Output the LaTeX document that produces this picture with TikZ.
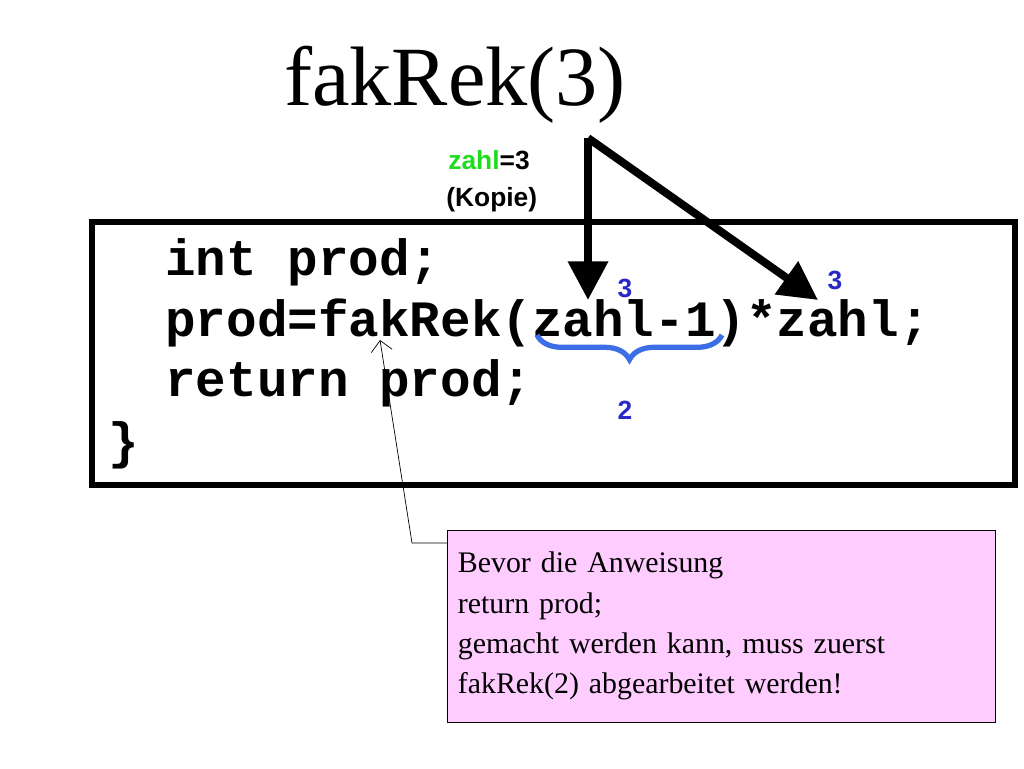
\documentclass[tikz,border=0pt]{standalone}
\usepackage{fontspec}
\setmainfont{Liberation Serif}
\setsansfont{Liberation Sans}
\setmonofont{Liberation Mono}
\usetikzlibrary{decorations.pathreplacing,arrows.meta}
\definecolor{braceblue}{RGB}{60,110,230}
\definecolor{numblue}{RGB}{40,40,200}
\definecolor{notepink}{RGB}{255,204,255}
\definecolor{zahlgreen}{RGB}{30,220,30}
\tikzset{
  code/.style={anchor=west, inner sep=0pt, font=\ttfamily\bfseries\fontsize{29}{30}\selectfont},
  num/.style={text=numblue, font=\sffamily\bfseries\fontsize{15}{16}\selectfont},
  small/.style={anchor=west, inner sep=0pt, font=\sffamily\bfseries\fontsize{15}{16}\selectfont},
  bigarrow/.style={line width=4.5pt, -{Triangle[length=22pt,width=22pt]}}
}
\begin{document}
\begin{tikzpicture}[x=0.02cm,y=-0.02cm]
  \useasboundingbox (0,0) rectangle (1024,768);
  \node (title) at (455,85) {\fontsize{48}{50}\selectfont fakRek(3)};
  \node[small] (param) at (448,160) {\textcolor{zahlgreen}{zahl}=3};
  \node[small] (kopie) at (446,200) {(Kopie)};
  \draw[line width=3pt] (92,222) rectangle (1015,485);
  \node[code] (l1) at (165,262) {int prod;};
  \node[code] (l2) at (165,323) {prod=fakRek(zahl-1)*zahl;};
  \node[code] (l3) at (165,383) {return prod;};
  \node[code] (l4) at (108,445) {\}};
  \coordinate (src) at (588,138);
  \draw[bigarrow] (src) -- (588,300);
  \draw[bigarrow] (src) -- (818,300);
  \node[num] (n1) at (625,288) {3};
  \node[num] (n2) at (835,280) {3};
  \draw[braceblue, line width=3pt, decorate, decoration={brace, mirror, amplitude=14pt}] (537,335) -- (722,335);
  \node[num] (n3) at (625,410) {2};
  \node[draw, fill=notepink, align=left, anchor=north west, text width=300pt, inner sep=6pt, minimum height=109pt, font=\fontsize{17}{23}\selectfont] (note) at (447,530) {\raggedright Bevor die Anweisung\\return prod;\\gemacht werden kann, muss zuerst\\fakRek(2) abgearbeitet werden!};
  \coordinate (bend) at (412,543);
  \draw[-{Straight Barb[length=6pt]}] (447,543) -- (bend) -- (380,340);
\end{tikzpicture}
\end{document}
